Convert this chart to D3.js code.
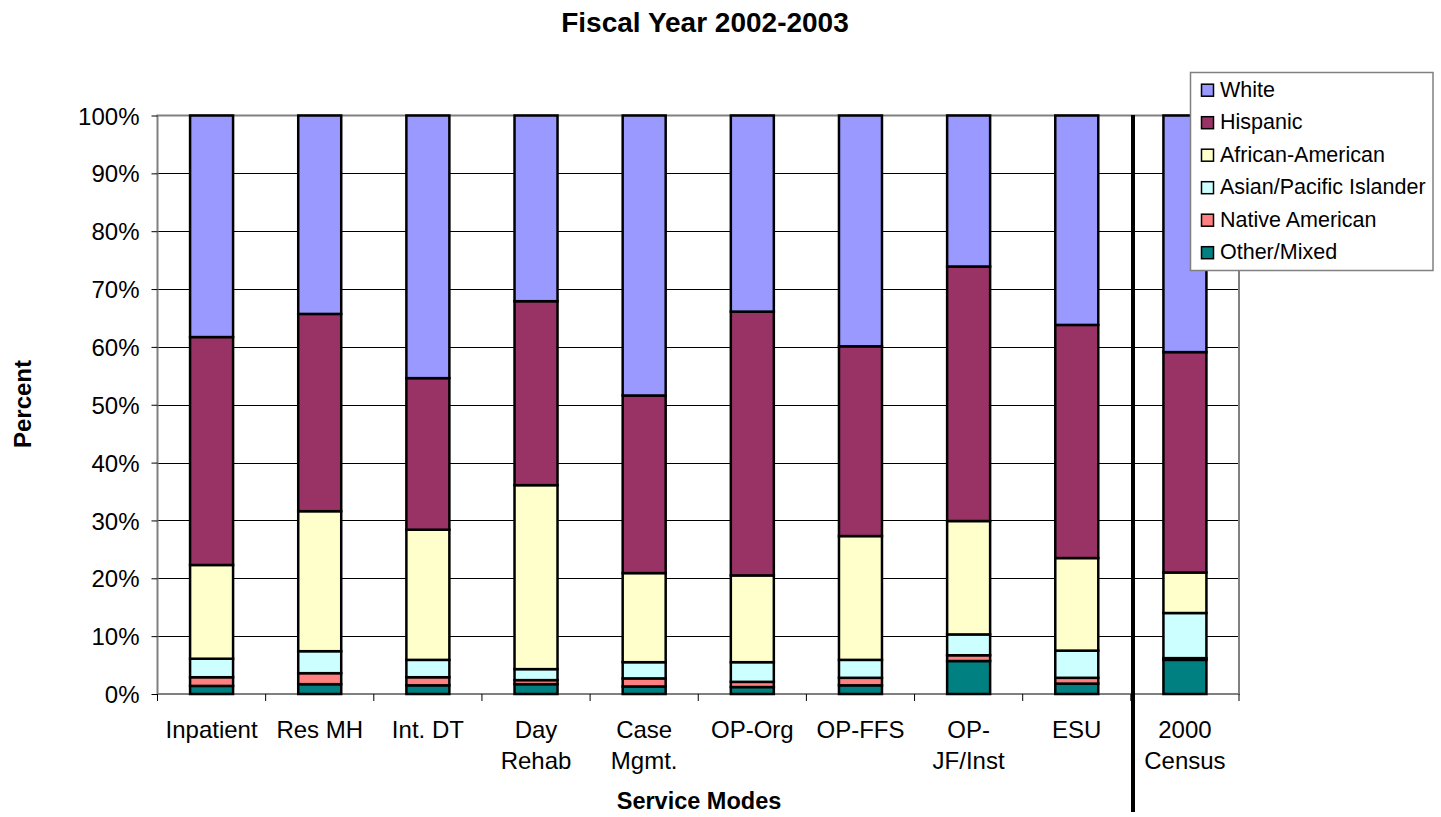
<!DOCTYPE html>
<html><head><meta charset="utf-8">
<script src="https://cdn.jsdelivr.net/npm/d3@7"></script>
<style>body{margin:0;background:#fff}svg{display:block;font-family:Arial,"Liberation Sans",sans-serif}</style>
</head><body><svg id="c" width="1441" height="817"></svg>
<script>
const categories = [["Inpatient"],["Res MH"],["Int. DT"],["Day","Rehab"],["Case","Mgmt."],["OP-Org"],["OP-FFS"],["OP-","JF/Inst"],["ESU"],["2000","Census"]];
const seriesNames = ["Other/Mixed","Native American","Asian/Pacific Islander","African-American","Hispanic","White"];
const otherMixed   = [1.4,1.7,1.5,1.7,1.3,1.2,1.5,5.7,1.8,5.9];
const nativeAm     = [1.5,1.9,1.4,0.7,1.4,0.9,1.3,1.0,1.0,0.3];
const asianPI      = [3.2,3.8,3.0,1.9,2.8,3.4,3.1,3.6,4.7,7.8];
const africanAm    = [16.2,24.2,22.5,31.8,15.4,15.0,21.4,19.6,16.0,7.0];
const hispanic     = [39.4,34.1,26.2,31.8,30.7,45.6,32.8,44.0,40.3,38.1];
const white        = [38.3,34.3,45.4,32.1,48.4,33.9,39.9,26.1,36.2,40.9];
const yTicks = [0,10,20,30,40,50,60,70,80,90,100];
const colors = ["#008080","#FF8080","#CCFFFF","#FFFFCC","#993366","#9999FF"];
const legendOrder = ["White","Hispanic","African-American","Asian/Pacific Islander","Native American","Other/Mixed"];

const svg = d3.select("#c");
const L=157.5, R=1239, T=115.5, B=694;
const keys = categories.map((c,i)=>i);
const x = d3.scaleBand().domain(keys).range([L,R]).paddingInner(0).paddingOuter(0);
const y = d3.scaleLinear().domain([0,100]).range([B,T]);
const valArrays = [otherMixed,nativeAm,asianPI,africanAm,hispanic,white];
const rows = keys.map(i=>{const o={i}; seriesNames.forEach((s,k)=>o[s]=valArrays[k][i]); return o;});
const stack = d3.stack().keys(seriesNames)(rows);

// gridlines
svg.append("g").selectAll("line").data(yTicks.filter(t=>t>0&&t<100)).join("line")
  .attr("x1",L).attr("x2",R).attr("y1",d=>Math.round(y(d))+0.5).attr("y2",d=>Math.round(y(d))+0.5)
  .attr("stroke","#000").attr("stroke-width",1);
// plot frame
svg.append("rect").attr("x",L).attr("y",T).attr("width",R-L).attr("height",B-T)
  .attr("fill","none").attr("stroke","#808080").attr("stroke-width",2);

// bars
const bw = 43;
svg.append("g").selectAll("g").data(stack).join("g").attr("fill",(d,k)=>colors[k])
  .selectAll("rect").data(d=>d).join("rect")
  .attr("x",d=>x(d.data.i)+x.bandwidth()/2-bw/2)
  .attr("y",d=>y(d[1])).attr("height",d=>y(d[0])-y(d[1])).attr("width",bw)
  .attr("stroke","#000").attr("stroke-width",2.5);

// y axis
const ya = svg.append("g").attr("transform",`translate(${L},0)`)
  .call(d3.axisLeft(y).tickValues(yTicks).tickFormat(d=>d+"%").tickSize(6).tickPadding(12));
ya.select(".domain").remove();
ya.selectAll("line").attr("stroke","#000");
ya.selectAll("text").attr("font-size",24).attr("font-family","Arial,'Liberation Sans',sans-serif").attr("fill","#000").attr("dy","0.36em");

// x axis ticks
svg.append("g").selectAll("line").data(keys.concat([keys.length])).join("line")
  .attr("x1",d=>d<keys.length?x(d):R).attr("x2",d=>d<keys.length?x(d):R)
  .attr("y1",B).attr("y2",B+7).attr("stroke","#000").attr("stroke-width",1);
// category labels
const cl = svg.append("g").selectAll("text").data(keys).join("text")
  .attr("x",d=>x(d)+x.bandwidth()/2).attr("y",737.5).attr("text-anchor","middle")
  .attr("font-size",24).attr("fill","#000");
cl.each(function(d){const t=d3.select(this); categories[d].forEach((s,j)=>t.append("tspan").attr("x",x(d)+x.bandwidth()/2).attr("dy",j?31.5:0).text(s));});

// separator line
svg.append("line").attr("x1",1133).attr("x2",1133).attr("y1",T-0.5).attr("y2",812)
  .attr("stroke","#000").attr("stroke-width",4);

// titles
svg.append("text").attr("x",705).attr("y",31.5).attr("text-anchor","middle").attr("font-size",28).attr("font-weight","bold").text("Fiscal Year 2002-2003");
svg.append("text").attr("x",699).attr("y",809).attr("text-anchor","middle").attr("font-size",23.5).attr("font-weight","bold").text("Service Modes");
svg.append("text").attr("transform","translate(31,404) rotate(-90)").attr("text-anchor","middle").attr("font-size",24).attr("font-weight","bold").text("Percent");

// legend
const lg = svg.append("g");
lg.append("rect").attr("x",1190.5).attr("y",72.5).attr("width",242.5).attr("height",198).attr("fill","#fff").attr("stroke","#808080").attr("stroke-width",1.5);
legendOrder.forEach((n,j)=>{
  const k = seriesNames.indexOf(n);
  const yy = 96.7 + j*32.5;
  lg.append("rect").attr("x",1201.5).attr("y",yy-12.5).attr("width",12).attr("height",12).attr("fill",colors[k]).attr("stroke","#000").attr("stroke-width",1.5);
  lg.append("text").attr("x",1220).attr("y",yy).attr("font-size",21.5).attr("fill","#000").text(n);
});
</script></body></html>
